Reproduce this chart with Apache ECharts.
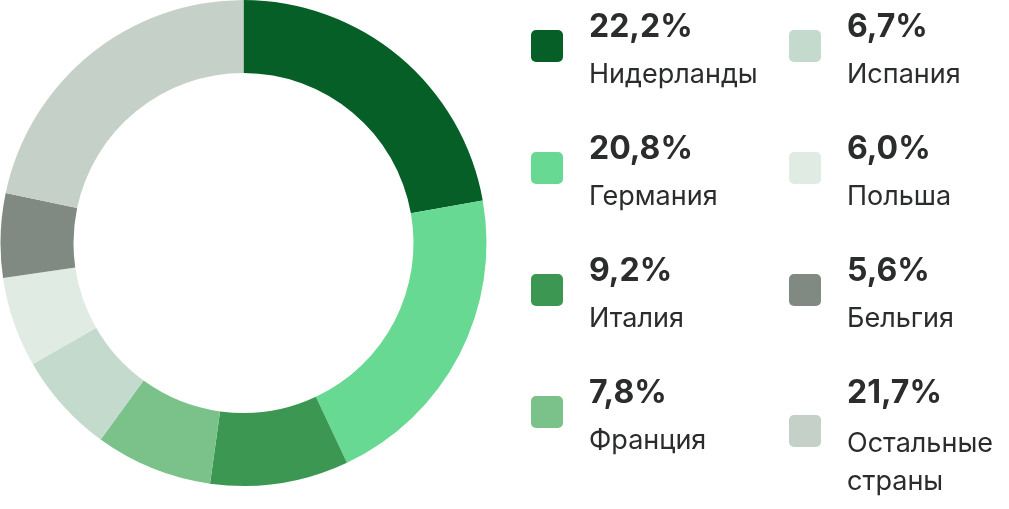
<!DOCTYPE html>
<html>
<head>
<meta charset="utf-8">
<script src="https://cdn.jsdelivr.net/npm/echarts@6/dist/echarts.min.js"></script>
<style>
html,body{margin:0;padding:0;background:#fff;}
#chart{width:1009px;height:509px;}
</style>
</head>
<body>
<div id="chart"></div>
<script>
const countries = ['Нидерланды', 'Германия', 'Италия', 'Франция', 'Испания', 'Польша', 'Бельгия', 'Остальные страны'];
const shares = [22.2, 20.8, 9.2, 7.8, 6.7, 6.0, 5.6, 21.7];
const sliceColors = ['#055f27', '#68d993', '#3b9751', '#7ac28a', '#c4dacc', '#e0ebe3', '#808a82', '#c5d0c8'];
const legendLabels = ['Нидерланды', 'Германия', 'Италия', 'Франция', 'Испания', 'Польша', 'Бельгия', 'Остальные\nстраны'];
const column1 = countries.slice(0, 4);
const column2 = countries.slice(4);

const fmtPct = v => v.toFixed(1).replace('.', ',') + '%';
const textColor = '#2a2d2b';
const iconPath = 'path://M5,0H27A5,5,0,0,1,32,5V27A5,5,0,0,1,27,32H5A5,5,0,0,1,0,27V5A5,5,0,0,1,5,0Z';

function legendFormatter(name) {
  const i = countries.indexOf(name);
  const lines = legendLabels[i].split('\n');
  const pStyle = lines.length > 1 ? 'q' : 'p';
  return '{' + pStyle + '|' + fmtPct(shares[i]) + '}\n{n|' + lines.join('}\n{n|') + '}';
}
const legendText = {
  color: textColor,
  padding: [0, 0, 0, 21],
  rich: {
    p: { fontFamily: 'Inter', fontSize: 32, fontWeight: 700, lineHeight: 58, color: textColor },
    q: { fontFamily: 'Inter', fontSize: 32, fontWeight: 700, lineHeight: 63, color: textColor },
    n: { fontFamily: 'Inter', fontSize: 27, fontWeight: 400, lineHeight: 38, color: textColor }
  }
};
function makeLegend(data, left) {
  return {
    data: data,
    orient: 'vertical',
    left: left,
    top: 11,
    height: 1000,
    padding: 0,
    itemWidth: 32,
    itemHeight: 32,
    itemGap: 44.5,
    icon: iconPath,
    selectedMode: false,
    itemStyle: { borderWidth: 0 },
    textStyle: legendText,
    formatter: legendFormatter
  };
}

const chart = echarts.init(document.getElementById('chart'), null, { renderer: 'canvas' });
chart.setOption({
  animation: false,
  legend: [makeLegend(column1, 531), makeLegend(column2, 789)],
  series: [{
    type: 'pie',
    center: [243.5, 243],
    radius: [170, 243],
    startAngle: 90,
    clockwise: true,
    silent: true,
    label: { show: false },
    labelLine: { show: false },
    itemStyle: { borderWidth: 0 },
    data: countries.map((c, i) => ({ name: c, value: shares[i], itemStyle: { color: sliceColors[i] } }))
  }]
});
</script>
</body>
</html>
